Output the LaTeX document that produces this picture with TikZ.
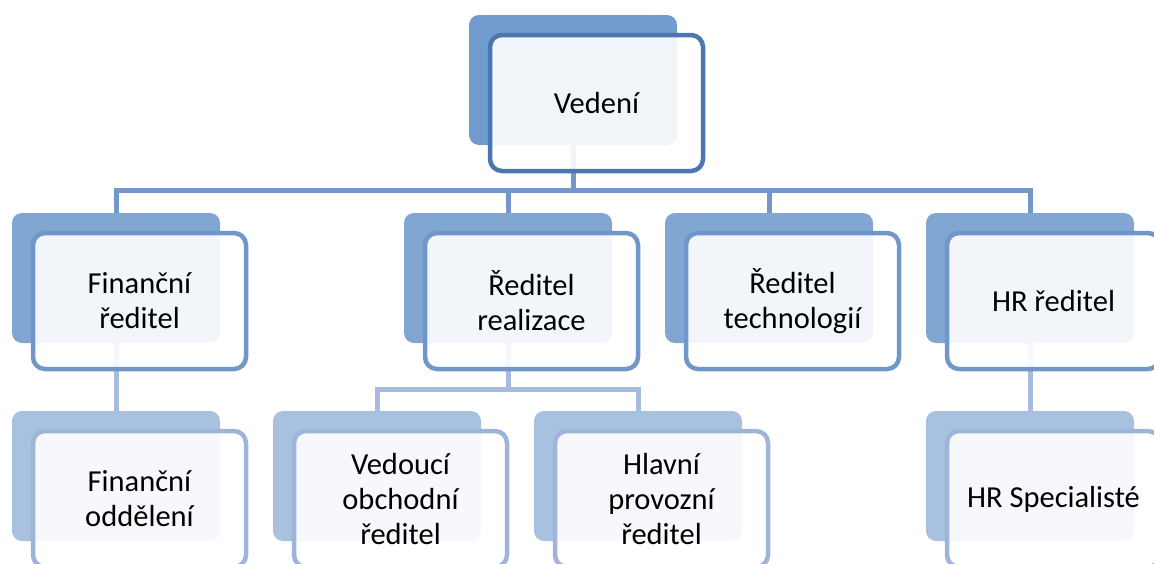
\documentclass[tikz,border=0pt]{standalone}
\usepackage{fontspec}
\setmainfont{Carlito}
\usetikzlibrary{backgrounds}
\definecolor{backA}{HTML}{719CCD}
\definecolor{lineA}{HTML}{4B76AE}
\definecolor{backB}{HTML}{82A6D2}
\definecolor{lineB}{HTML}{7196C9}
\definecolor{backC}{HTML}{A8C1E0}
\definecolor{lineC}{HTML}{9FB4D8}
\definecolor{connA}{HTML}{7596C9}
\definecolor{connB}{HTML}{A6BBDD}
\tikzset{
  backbox/.style={rectangle, rounded corners=10pt, minimum width=208pt, minimum height=130pt, inner sep=0pt, outer sep=0pt, anchor=north west},
  frontbox/.style={rectangle, rounded corners=12pt, minimum width=213pt, minimum height=136pt, inner sep=0pt, outer sep=0pt, line width=4.5pt, fill=white, fill opacity=0.9, text opacity=1, align=center, font=\fontsize{30.5}{35}\selectfont, text=black},
  connline/.style={line width=5pt},
}
\newcommand{\orgbox}[6]{%
  \node[backbox, fill=#4] (#1b) at (#2,#3) {};
  \node[frontbox, draw=#5, anchor=north west] (#1) at ([xshift=21pt,yshift=-20pt]#1b.north west) {#6};
}
\begin{document}
\begin{tikzpicture}[x=1pt,y=-1pt]
\useasboundingbox (0,0) rectangle (1154,563);
\clip (0,0) rectangle (1154,563);
% boxes
\orgbox{V}{469}{15}{backA}{lineA}{Vedení}
\orgbox{F}{12}{213}{backB}{lineB}{Finanční\\ředitel}
\orgbox{R}{404}{213}{backB}{lineB}{Ředitel\\realizace}
\orgbox{T}{665}{213}{backB}{lineB}{Ředitel\\technologií}
\orgbox{H}{926}{213}{backB}{lineB}{HR ředitel}
\orgbox{FO}{12}{411}{backC}{lineC}{Finanční\\oddělení}
\orgbox{VO}{273}{411}{backC}{lineC}{Vedoucí\\obchodní\\ředitel}
\orgbox{HP}{534}{411}{backC}{lineC}{Hlavní\\provozní\\ředitel}
\orgbox{HS}{926}{411}{backC}{lineC}{HR Specialisté}
% connectors, under the boxes
\begin{scope}[on background layer]
\coordinate (busA) at (Vb.south |- 0,190.5);
\coordinate (busB) at (Rb.south |- 0,389);
\draw[connline, connA] ([yshift=6pt]Vb.south) -- (busA);
\draw[connline, connA] (Fb.north) |- (busA) -| (Hb.north);
\draw[connline, connA] (busA) -| (Rb.north);
\draw[connline, connA] (busA) -| (Tb.north);
\draw[connline, connB] ([yshift=3pt]Fb.south) -- (FOb.north);
\draw[connline, connB] ([yshift=3pt]Rb.south) -- (busB);
\draw[connline, connB] (VOb.north) |- (busB) -| (HPb.north);
\draw[connline, connB] ([yshift=3pt]Hb.south) -- (HSb.north);
\end{scope}
\end{tikzpicture}
\end{document}
